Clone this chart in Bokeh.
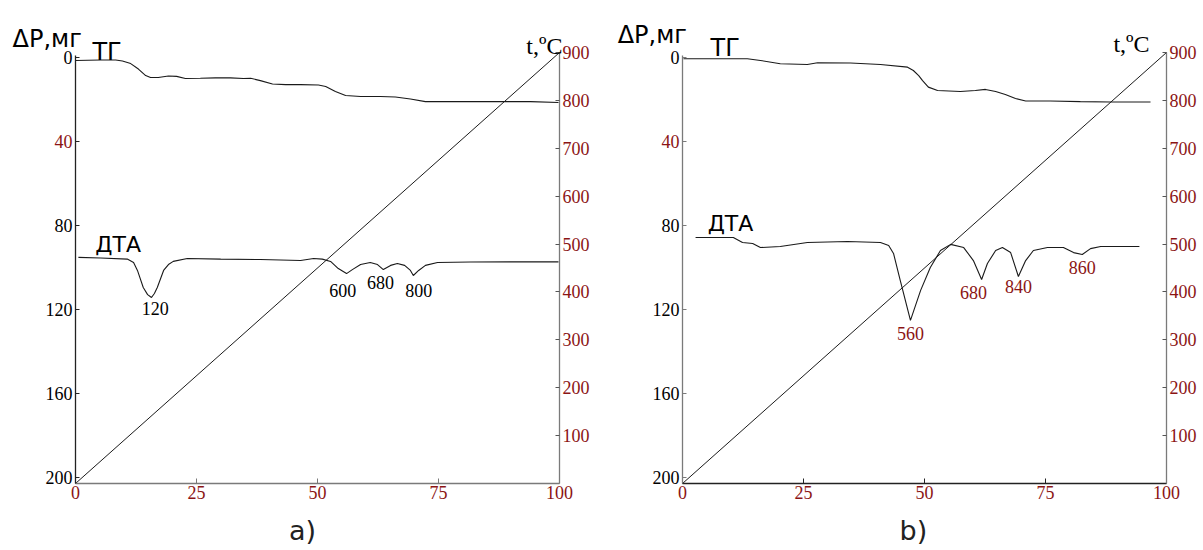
from bokeh.plotting import figure
from bokeh.models import Range1d, LinearAxis, FixedTicker, Label
from bokeh.layouts import row
from bokeh.embed import file_html
from bokeh.resources import INLINE

# ---- shared scales -------------------------------------------------------
TIME_TICKS = [0, 25, 50, 75, 100]
MASS_TICKS = [0, 80, 120, 160, 200]
MASS_TICKS_RED = [40]
TEMP_TICKS = [100, 200, 300, 400, 500, 600, 700, 800, 900]
HEATING_TIME = [0, 100]
HEATING_TEMP = [0, 900]

# ---- sample a) -----------------------------------------------------------
A_TG_T = [0, 5.2, 8.3, 9.7, 11.4, 13.0, 14.5, 15.5, 17.1, 19.2, 20.9, 22.7,
          25.8, 28.9, 32.0, 34.7, 36.2, 38.2, 40.7, 43.4, 46.5, 50.2, 51.7,
          53.7, 55.8, 58.9, 63.0, 66.1, 69.2, 72.3, 75.4, 81.6, 87.8, 94.0, 99.8]
A_TG_M = [1.4, 1.2, 1.2, 1.7, 2.9, 5.5, 8.6, 9.5, 9.5, 8.8, 9.0, 10.0,
          9.9, 9.7, 9.7, 10.0, 9.9, 11.0, 12.6, 12.9, 12.9, 13.1, 13.8,
          16.2, 18.1, 18.6, 18.6, 18.8, 19.8, 21.0, 21.0, 21.0, 21.0, 21.0, 21.4]

A_DTA_T = [0.6, 5.2, 10.7, 12.0, 12.8, 14.0, 14.9, 15.7, 16.3, 16.9, 18.2,
           19.2, 20.2, 23.1, 30.0, 38.2, 46.5, 49.2, 51.0, 52.7, 54.3, 56.0,
           57.2, 58.9, 60.9, 62.4, 63.6, 65.1, 66.5, 68.0, 69.2, 69.8, 70.9,
           72.3, 74.8, 81.6, 89.9, 99.8]
A_DTA_M = [95.2, 95.5, 96.0, 97.6, 101.4, 109.5, 112.9, 114.3, 112.4, 109.5,
           101.4, 98.6, 97.1, 95.7, 96.0, 96.2, 96.7, 95.7, 96.0, 97.1, 100.5,
           102.9, 101.0, 98.6, 97.6, 98.6, 101.0, 99.0, 98.1, 99.0, 101.4,
           103.8, 101.4, 99.0, 97.6, 97.4, 97.3, 97.3]

A_PEAK_T = [16.5, 55.2, 63.0, 70.9]
A_PEAK_M = [119.5, 111.0, 107.1, 111.0]
A_PEAK_LABELS = ["120", "600", "680", "800"]

# ---- sample b) -----------------------------------------------------------
B_TG_T = [0.2, 13.4, 16.1, 20.2, 25.8, 27.9, 34.7, 40.9, 46.5, 47.7, 48.8,
          49.6, 50.8, 52.7, 57.4, 60.5, 62.6, 64.7, 66.7, 68.8, 70.9, 76.0,
          82.2, 88.4, 96.7]
B_TG_M = [0.6, 0.6, 1.4, 3.0, 3.3, 2.5, 2.6, 3.3, 4.6, 6.2, 8.6, 11.0, 14.1,
          15.7, 16.2, 15.7, 15.2, 16.2, 17.6, 19.5, 20.7, 20.7, 21.0, 21.2, 21.2]

B_DTA_T = [2.7, 10.5, 12.4, 14.5, 16.1, 20.2, 25.8, 34.1, 40.9, 42.6, 43.6,
           45.0, 47.1, 49.2, 51.2, 53.3, 55.4, 58.1, 60.1, 61.8, 63.0, 64.7,
           66.1, 67.8, 69.4, 70.9, 72.5, 75.4, 78.7, 80.8, 82.6, 84.3, 86.4, 94.4]
B_DTA_M = [85.7, 85.7, 88.1, 88.6, 90.5, 90.0, 88.1, 87.6, 88.1, 89.5, 93.3,
           106.2, 125.2, 110.9, 100.0, 91.9, 89.0, 90.5, 96.7, 105.7, 98.1,
           91.9, 90.5, 92.9, 104.3, 96.7, 91.9, 90.5, 90.5, 92.9, 93.8, 91.0,
           90.0, 90.0]

B_PEAK_T = [47.1, 60.1, 69.4, 82.6]
B_PEAK_M = [131.4, 111.9, 109.0, 100.0]
B_PEAK_LABELS = ["560", "680", "840", "860"]

DARK_RED = "#8B1414"
SERIF = "Liberation Serif"
SANS = "DejaVu Sans"
CURVE = "#1a1a1a"

# Each panel is one plotting frame covering its whole canvas; the axes are
# pinned inside it with fixed_location so that every caption stays visible.
CANVAS_H = 550
TEMP_TOP_PX = 52      # height of 900 degC
MASS_ZERO_PX = 57     # height of 0 mg
BASE_PX = 483         # time axis
PX_PER_MG = 2.1
PX_PER_TIME = 4.84

MASS_TOP = -MASS_ZERO_PX / PX_PER_MG
MASS_BOTTOM = (CANVAS_H - MASS_ZERO_PX) / PX_PER_MG
MASS_BASE = (BASE_PX - MASS_ZERO_PX) / PX_PER_MG
DEG_PER_PX = HEATING_TEMP[1] / (BASE_PX - TEMP_TOP_PX)
TEMP_LOW = -(CANVAS_H - BASE_PX) * DEG_PER_PX
TEMP_HIGH = HEATING_TEMP[1] + TEMP_TOP_PX * DEG_PER_PX


def style_labels(ax, color, font, size, standoff):
    ax.major_label_text_color = color
    ax.major_label_text_font = font
    ax.major_label_text_font_size = size
    ax.major_label_standoff = standoff
    ax.minor_tick_line_color = None
    ax.major_tick_out = 0


def note(p, x, y, text, align, baseline, color, font, size):
    p.add_layout(Label(x=x, y=y, text=text, text_align=align,
                       text_baseline=baseline, text_color=color,
                       text_font=font, text_font_size=size))


def panel(width, origin_px, tg, dta, peaks, peak_color, caption, text_pos,
          left_color, bottom_color):
    x_lo = -origin_px / PX_PER_TIME
    x_hi = (width - origin_px) / PX_PER_TIME
    p = figure(width=width, height=CANVAS_H, output_backend="svg",
               toolbar_location=None, x_axis_type=None, y_axis_type=None,
               x_range=Range1d(x_lo, x_hi),
               y_range=Range1d(MASS_BOTTOM, MASS_TOP),
               min_border_left=0, min_border_right=0,
               min_border_top=0, min_border_bottom=0)
    p.outline_line_color = None
    p.grid.visible = False
    p.background_fill_color = "white"
    p.border_fill_color = "white"
    p.extra_y_ranges = {"temp": Range1d(TEMP_LOW, TEMP_HIGH)}

    # time axis
    xa = LinearAxis(ticker=FixedTicker(ticks=TIME_TICKS),
                    fixed_location=MASS_BASE, bounds=(0, 100))
    xa.axis_line_color = bottom_color
    xa.axis_line_width = 1.3
    xa.major_tick_in = 5
    xa.major_tick_line_color = bottom_color
    style_labels(xa, DARK_RED, SERIF, "18px", 2)
    p.add_layout(xa, "below")

    # mass-loss axis (inverted)
    ya = LinearAxis(ticker=FixedTicker(ticks=MASS_TICKS + MASS_TICKS_RED),
                    fixed_location=0, bounds=(-1, MASS_BASE),
                    major_label_overrides={t: "" for t in MASS_TICKS_RED})
    ya.axis_line_color = left_color
    ya.axis_line_width = 1.3
    ya.major_tick_in = 4
    ya.major_tick_line_color = left_color
    style_labels(ya, "black", SERIF, "18px", 3)
    p.add_layout(ya, "left")

    # the same mass axis, labels printed in red
    yr = LinearAxis(ticker=FixedTicker(ticks=MASS_TICKS_RED), fixed_location=0)
    yr.axis_line_color = None
    yr.major_tick_line_color = None
    yr.major_tick_in = 0
    style_labels(yr, DARK_RED, SERIF, "18px", 3)
    p.add_layout(yr, "left")

    # temperature axis
    ta = LinearAxis(y_range_name="temp", ticker=FixedTicker(ticks=TEMP_TICKS),
                    fixed_location=100, bounds=HEATING_TEMP)
    ta.axis_line_color = "#7a7a7a"
    ta.axis_line_width = 1.3
    ta.major_tick_in = 4
    ta.major_tick_line_color = "#555555"
    style_labels(ta, DARK_RED, SERIF, "18px", 3)
    p.add_layout(ta, "right")

    # heating line, TG and DTA curves
    p.line(HEATING_TIME, HEATING_TEMP, y_range_name="temp",
           line_color="black", line_width=0.9)
    p.line(tg[0], tg[1], line_color=CURVE, line_width=1.1)
    p.line(dta[0], dta[1], line_color=CURVE, line_width=1.1)

    for t, m, s in zip(*peaks):
        note(p, t, m, s, "center", "middle", peak_color, SERIF, "18px")

    (dp_x, dp_y), (tg_x, tg_y), (dta_x, dta_y), (tc_x, tc_y) = text_pos
    note(p, dp_x, dp_y, "ΔP,мг", "left", "alphabetic", "black", SANS, "24px")
    note(p, tg_x, tg_y, "ТГ", "left", "alphabetic", "black", SANS, "24px")
    note(p, dta_x, dta_y, "ДТА", "left", "alphabetic", "black", SANS, "22px")
    note(p, tc_x, tc_y, "t,ºC", "right", "alphabetic", "black", SERIF, "24px")
    note(p, caption[1], caption[2], caption[0], "center", "middle",
         "#222222", SANS, "27px")
    return p


pa = panel(609, 75, (A_TG_T, A_TG_M), (A_DTA_T, A_DTA_M),
           (A_PEAK_T, A_PEAK_M, A_PEAK_LABELS), "black", ("a)", 46.9, 225.2),
           [(-13.0, -9.0), (3.5, -2.4), (4.1, 89.0), (100.6, -5.7)],
           "#222222", "#7a7a7a")
pb = panel(594, 73, (B_TG_T, B_TG_M), (B_DTA_T, B_DTA_M),
           (B_PEAK_T, B_PEAK_M, B_PEAK_LABELS), DARK_RED, ("b)", 47.7, 225.2),
           [(-13.4, -10.5), (5.8, -4.3), (5.2, 79.0), (96.5, -6.2)],
           "#7a7a7a", "#222222")

layout = row(pa, pb)
open("out.html", "w").write(file_html(layout, INLINE))
